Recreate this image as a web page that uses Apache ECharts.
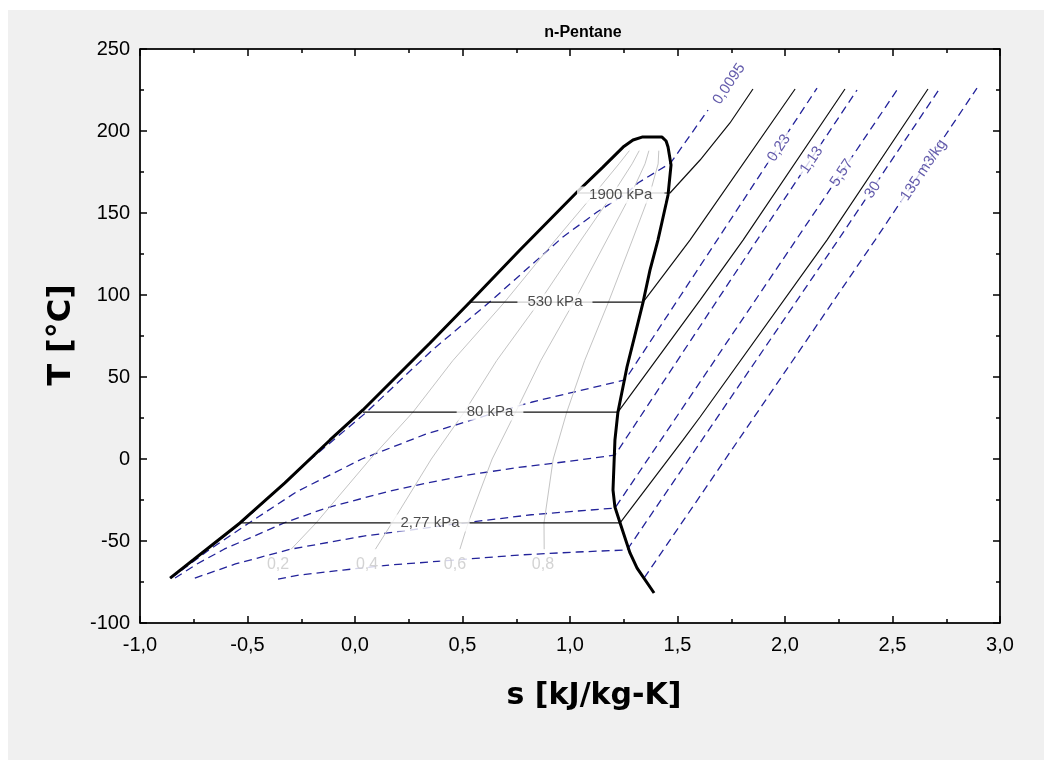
<!DOCTYPE html>
<html><head><meta charset="utf-8">
<script src="https://cdn.jsdelivr.net/npm/echarts/dist/echarts.min.js"></script>
<style>
html,body{margin:0;padding:0;background:#fff;}
#bg{position:absolute;left:8px;top:10px;width:1036px;height:750px;background:#f0f0f0;}
#chart{position:absolute;left:0;top:0;width:1044px;height:760px;}
</style></head><body>
<div id="bg"></div><div id="chart"></div>
<script>
const chartTitle = 'n-Pentane';
const xName = 's [kJ/kg-K]';
const yName = 'T [°C]';
const xTickValues = [-1, -0.5, 0, 0.5, 1, 1.5, 2, 2.5, 3];
const xTickLabels = ['-1,0', '-0,5', '0,0', '0,5', '1,0', '1,5', '2,0', '2,5', '3,0'];
const yTickValues = [-100, -50, 0, 50, 100, 150, 200, 250];
const yTickLabels = ['-100', '-50', '0', '50', '100', '150', '200', '250'];

// saturation dome (s, T)
const satLiquid = [[-0.860,-72.6],[-0.753,-61.6],[-0.535,-39.0],[-0.326,-14.6],[-0.116,11.6],[0.037,29.9],[0.349,70.7],[0.535,95.7],[0.767,127.4],[1.033,162.8],[1.153,178.0],[1.247,190.2],[1.293,194.5],[1.335,196.3]];
const satVapor = [[1.428,196.3],[1.447,193.9],[1.456,190.2],[1.470,179.3],[1.456,161.0],[1.428,144.5],[1.409,133.5],[1.372,115.2],[1.340,95.7],[1.302,75.6],[1.265,56.1],[1.223,28.7],[1.209,11.6],[1.200,-18.9],[1.209,-29.3],[1.233,-39.0],[1.279,-57.3],[1.312,-66.5],[1.391,-81.7]];

// isobars
const isobarNames = ['1900 kPa', '530 kPa', '80 kPa', '2,77 kPa'];
const isobar1900 = [[1.029,162.2],[1.465,162.2],[1.605,182.3],[1.744,204.9],[1.851,225.6]];
const isobar530 = [[0.535,95.7],[1.340,95.7],[1.558,133.5],[2.047,225.6]];
const isobar80 = [[0.037,28.6],[1.223,28.6],[1.605,96.9],[1.805,133.5],[2.279,225.6]];
const isobar2_77 = [[-0.535,-39.0],[1.233,-39.0],[1.526,11.6],[1.605,25.6],[2.195,133.5],[2.665,225.6]];
const isobarLabelPos = [[1.236,161.0],[0.930,95.7],[0.628,28.6],[0.349,-39.0]];

// quality lines
const qualityT = [-55, -39, 0, 28.6, 60, 95.7, 133.5, 162, 180, 188];
const quality02 = [-0.297,-0.181,0.071,0.270,0.455,0.696,0.932,1.115,1.228,1.276];
const quality04 = [0.095,0.172,0.355,0.508,0.659,0.857,1.051,1.201,1.289,1.322];
const quality06 = [0.488,0.526,0.638,0.747,0.864,1.018,1.171,1.286,1.349,1.367];
const quality08 = [0.880,0.879,0.922,0.985,1.068,1.179,1.290,1.372,1.410,1.413];
const qualityNames = ['0,2', '0,4', '0,6', '0,8'];
const qualityLabelPos = [[-0.358,-64.6],[0.056,-64.6],[0.465,-64.6],[0.874,-64.6]];

// isochores (specific volume, m3/kg)
const iso0_0095 = [[-0.860,-72.6],[-0.695,-56],[-0.530,-39],[-0.205,0],[0.054,28.6],[0.360,66.5],[0.626,95.7],[0.967,135.4],[1.126,150.6],[1.265,162.2],[1.316,168.3],[1.468,180.5],[1.642,212.8]];
const iso0_23 = [[-0.855,-72.6],[-0.674,-55],[-0.493,-39],[-0.272,-20],[0.032,0],[0.326,15],[0.662,28.6],[0.820,34.6],[0.991,40],[1.256,48.2],[1.702,137],[2.149,226.2]];
const iso1_13 = [[-0.837,-72.6],[-0.735,-64],[-0.609,-55],[-0.330,-39],[-0.137,-30],[0.148,-20],[0.336,-14.6],[0.515,-10],[0.740,-5.5],[0.990,-1.5],[1.209,2.4],[1.870,133.5],[2.335,225]];
const iso5_57 = [[-0.745,-72.6],[-0.556,-64],[-0.300,-55],[0.040,-47],[0.530,-38.6],[0.820,-34],[1.209,-29.9],[2.051,133.5],[2.521,225]];
const iso30 = [[-0.358,-73.2],[-0.256,-70.7],[-0.056,-67.7],[0.163,-64.6],[0.288,-63.4],[0.581,-60.4],[0.767,-58.5],[1.033,-56.7],[1.265,-55.5],[2.247,133.5],[2.721,226.2]];
const iso135 = [[1.345,-72.5],[2.419,133.5],[2.893,226.2]];
const isochoreNames = ['0,0095', '0,23', '1,13', '5,57', '30', '135 m3/kg'];
const isochoreLabelPos = [[1.740,228.7],[1.972,189.6],[2.124,182.3],[2.264,174.4],[2.408,164.0],[2.645,176.2]];

const fmtX = v => { const i = xTickValues.findIndex(t => Math.abs(t - v) < 1e-9); return i >= 0 ? xTickLabels[i] : ''; };
const fmtY = v => { const i = yTickValues.findIndex(t => Math.abs(t - v) < 1e-9); return i >= 0 ? yTickLabels[i] : ''; };

const frameLine = { show: true, onZero: false, lineStyle: { color: '#000', width: 1.5 } };
const tick = { show: true, inside: true, length: 7, lineStyle: { color: '#000', width: 1.5 } };
const minor = { show: true, splitNumber: 2, length: 4, lineStyle: { color: '#000', width: 1.5 } };
const fontFam = '"Liberation Sans", Arial, sans-serif';
const boldFam = '"DejaVu Sans", "Liberation Sans", sans-serif';

function lineSeries(data, color, width, type, z) {
  return { type: 'line', data: data, showSymbol: false, symbol: 'none', silent: true, animation: false, z: z || 2,
    lineStyle: { color: color, width: width, type: type || 'solid' } };
}
const dashBlue = '#23239a';
const dash = [8, 5];
const series = [];
[iso0_0095, iso0_23, iso1_13, iso5_57, iso30, iso135].forEach(d => series.push(lineSeries(d, dashBlue, 1.3, dash, 2)));
[quality02, quality04, quality06, quality08].forEach(q => series.push(lineSeries(qualityT.map((t, i) => [q[i], t]), '#c4c4c4', 1, 'solid', 2)));
[isobar1900, isobar530, isobar80, isobar2_77].forEach(d => series.push(lineSeries(d, '#111', 1.2, 'solid', 3)));
series.push(lineSeries(satLiquid.concat(satVapor), '#000', 3, 'solid', 4));

const labelData = [];
isobarNames.forEach((n, i) => labelData.push({ value: isobarLabelPos[i], label: { show: true, position: 'inside', formatter: n, fontSize: 15, color: '#222', backgroundColor: '#fff', padding: [1, i === 0 ? 12 : 10] } }));
qualityNames.forEach((n, i) => labelData.push({ value: qualityLabelPos[i], label: { show: true, position: 'inside', formatter: n, fontSize: 16, color: '#c8c8c8', backgroundColor: '#fff', padding: [0, 4] } }));
isochoreNames.forEach((n, i) => labelData.push({ value: isochoreLabelPos[i], label: { show: true, position: 'inside', formatter: n, rotate: 56, fontSize: 15, color: '#3c3296', backgroundColor: '#fff', padding: [0, 4] } }));
series.push({ type: 'scatter', data: labelData, symbolSize: 0, silent: true, animation: false, z: 10, label: { fontFamily: fontFam } });

const option = {
  animation: false,
  textStyle: { fontFamily: fontFam },
  title: { text: chartTitle, left: 578, top: 20, textAlign: 'center', textStyle: { fontSize: 16, fontWeight: 'bold', color: '#000', fontFamily: fontFam } },
  grid: { left: 140, right: 44, top: 49, bottom: 137, show: true, backgroundColor: '#fff', borderColor: '#000', borderWidth: 1 },
  graphic: [
    { type: 'text', x: 594, y: 696, style: { text: xName, fill: '#000', font: 'bold 30px ' + boldFam, textAlign: 'center', textVerticalAlign: 'middle' } },
    { type: 'text', x: 62, y: 335, rotation: Math.PI / 2, style: { text: yName, fill: '#000', font: 'bold 32px ' + boldFam, textAlign: 'center', textVerticalAlign: 'middle' } }
  ],
  xAxis: [
    { type: 'value', min: -1, max: 3, interval: 0.5, position: 'bottom', axisLine: frameLine, axisTick: tick, minorTick: minor, splitLine: { show: false },
      axisLabel: { formatter: fmtX, fontSize: 20, color: '#000', margin: 12, fontFamily: fontFam } },
    { type: 'value', min: -1, max: 3, interval: 0.5, position: 'top', axisLine: frameLine, axisTick: tick, minorTick: minor, splitLine: { show: false }, axisLabel: { show: false } }
  ],
  yAxis: [
    { type: 'value', min: -100, max: 250, interval: 50, position: 'left', axisLine: frameLine, axisTick: tick, minorTick: minor, splitLine: { show: false },
      axisLabel: { formatter: fmtY, fontSize: 20, color: '#000', margin: 10, fontFamily: fontFam } },
    { type: 'value', min: -100, max: 250, interval: 50, position: 'right', axisLine: frameLine, axisTick: tick, minorTick: minor, splitLine: { show: false }, axisLabel: { show: false } }
  ],
  series: series
};
const chart = echarts.init(document.getElementById('chart'), null, { renderer: 'canvas' });
chart.setOption(option);
</script></body></html>
